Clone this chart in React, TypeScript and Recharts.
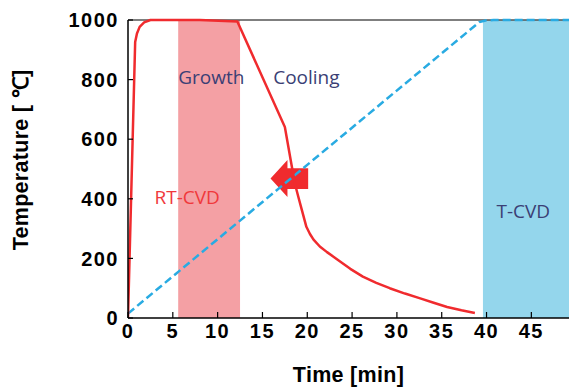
import React from "react";
import {
  ComposedChart,
  Line,
  XAxis,
  YAxis,
  ReferenceArea,
  ReferenceLine,
  ReferenceDot,
} from "recharts";

// RT-CVD heating / cooling profile (minutes, °C)
const rtTime = [0, 0.8, 1.0, 1.3, 1.8, 2.5, 3.9, 8.0, 12.2, 17.5, 18.6, 19.0, 19.4, 19.9, 20.3, 20.7, 21.4, 22.2, 23.0, 23.7, 24.8, 26.2, 27.7, 29.2, 30.9, 32.6, 34.1, 35.6, 37.2, 38.7];
const rtTemp = [0, 926, 955, 977, 992, 1000, 1000, 1000, 995, 641, 453, 407, 362, 306, 282, 263, 240, 221, 204, 189, 165, 139, 118, 100, 82, 66, 51, 37, 26, 17];

// T-CVD furnace ramp
const tTime = [0, 39.2, 40.0, 40.8, 49.2];
const tTemp = [15, 993, 999, 1000, 1000];

const xTicks = [0, 5, 10, 15, 20, 25, 30, 35, 40, 45];
const yTicks = [0, 200, 400, 600, 800, 1000];

const growthBand = [5.6, 12.5];
const tcvdBand = [39.6, 49.2];

// arrow box: [x1, x2, y1, y2]
const arrowBox = [15.9, 20.1, 406, 530];

const labels = [
  { text: "Growth", x: 9.3, y: 809, color: "#3b3f75" },
  { text: "Cooling", x: 19.9, y: 809, color: "#3b3f75" },
  { text: "RT-CVD", x: 6.6, y: 406, color: "#f0393c" },
  { text: "T-CVD", x: 44.1, y: 359, color: "#3b3f75" },
];

const rtData = rtTime.map((t, i) => ({ t, v: rtTemp[i] }));
const tData = tTime.map((t, i) => ({ t, v: tTemp[i] }));

const RED = "#f02b2e";
const BLUE = "#29abe2";

function ArrowShape(props: any) {
  const { x, y, width, height } = props;
  const headW = width * 0.45;
  const tailTop = y + height * 0.22;
  const tailBot = y + height * 0.78;
  const mid = y + height / 2;
  const pts = [
    [x, mid],
    [x + headW, y],
    [x + headW, tailTop],
    [x + width, tailTop],
    [x + width, tailBot],
    [x + headW, tailBot],
    [x + headW, y + height],
  ]
    .map((p) => p.join(","))
    .join(" ");
  return <polygon points={pts} fill={RED} />;
}

const tickFont = {
  fontFamily: "Liberation Sans, Arial, sans-serif",
  fontWeight: 700,
  fontSize: 20,
  fill: "#000",
  letterSpacing: 1.5,
};

const titleFont = { ...tickFont, letterSpacing: 0.3, fontSize: 21.5 };

export default function App() {
  return (
    <div style={{ position: "absolute", left: 0, top: 0, width: 569, height: 392, background: "#fff" }}>
      <ComposedChart
        width={569}
        height={392}
        margin={{ top: 20, right: 0, bottom: 0, left: 0 }}
      >
        <XAxis
          dataKey="t"
          type="number"
          scale="linear"
          domain={[0, 49.2]}
          allowDataOverflow
          ticks={xTicks}
          height={74}
          tick={tickFont}
          tickSize={-6}
          tickMargin={12}
          axisLine={{ stroke: "#000", strokeWidth: 1.5 }}
          tickLine={{ stroke: "#000", strokeWidth: 1.2 }}
          label={{
            value: "Time [min]",
            position: "insideBottom",
            offset: 10,
            style: titleFont,
          }}
        />
        <YAxis
          type="number"
          domain={[0, 1000]}
          ticks={yTicks}
          width={128}
          tick={tickFont}
          tickSize={-5}
          tickMargin={14}
          axisLine={{ stroke: "#000", strokeWidth: 1.5 }}
          tickLine={{ stroke: "#000", strokeWidth: 1.2 }}
          label={{
            value: "Temperature [ ℃]",
            position: "center",
            angle: -90,
            dx: -44,
            dy: -9,
            style: titleFont,
          }}
        />
        <ReferenceArea
          x1={growthBand[0]}
          x2={growthBand[1]}
          y1={0}
          y2={1000}
          fill="#f4a0a4"
          fillOpacity={1}
          stroke="none"
        />
        <ReferenceArea
          x1={tcvdBand[0]}
          x2={tcvdBand[1]}
          y1={0}
          y2={1000}
          fill="#94d6ec"
          fillOpacity={1}
          stroke="none"
        />
        <ReferenceLine y={1000} stroke="#555" strokeWidth={1.5} />
        <Line
          data={tData}
          dataKey="v"
          type="linear"
          stroke={BLUE}
          strokeWidth={2.5}
          strokeDasharray="8 4"
          dot={false}
          isAnimationActive={false}
        />
        <Line
          data={rtData}
          dataKey="v"
          type="linear"
          stroke={RED}
          strokeWidth={2.5}
          strokeLinejoin="round"
          dot={false}
          isAnimationActive={false}
        />
        <ReferenceArea
          x1={arrowBox[0]}
          x2={arrowBox[1]}
          y1={arrowBox[2]}
          y2={arrowBox[3]}
          shape={ArrowShape}
        />
        {labels.map((l) => (
          <ReferenceDot
            key={l.text}
            x={l.x}
            y={l.y}
            r={0}
            fill="none"
            stroke="none"
            label={{
              value: l.text,
              position: "center",
              fill: l.color,
              fontSize: 19,
              fontFamily: "Open Sans, Noto Sans, sans-serif",
            }}
          />
        ))}
      </ComposedChart>
    </div>
  );
}
